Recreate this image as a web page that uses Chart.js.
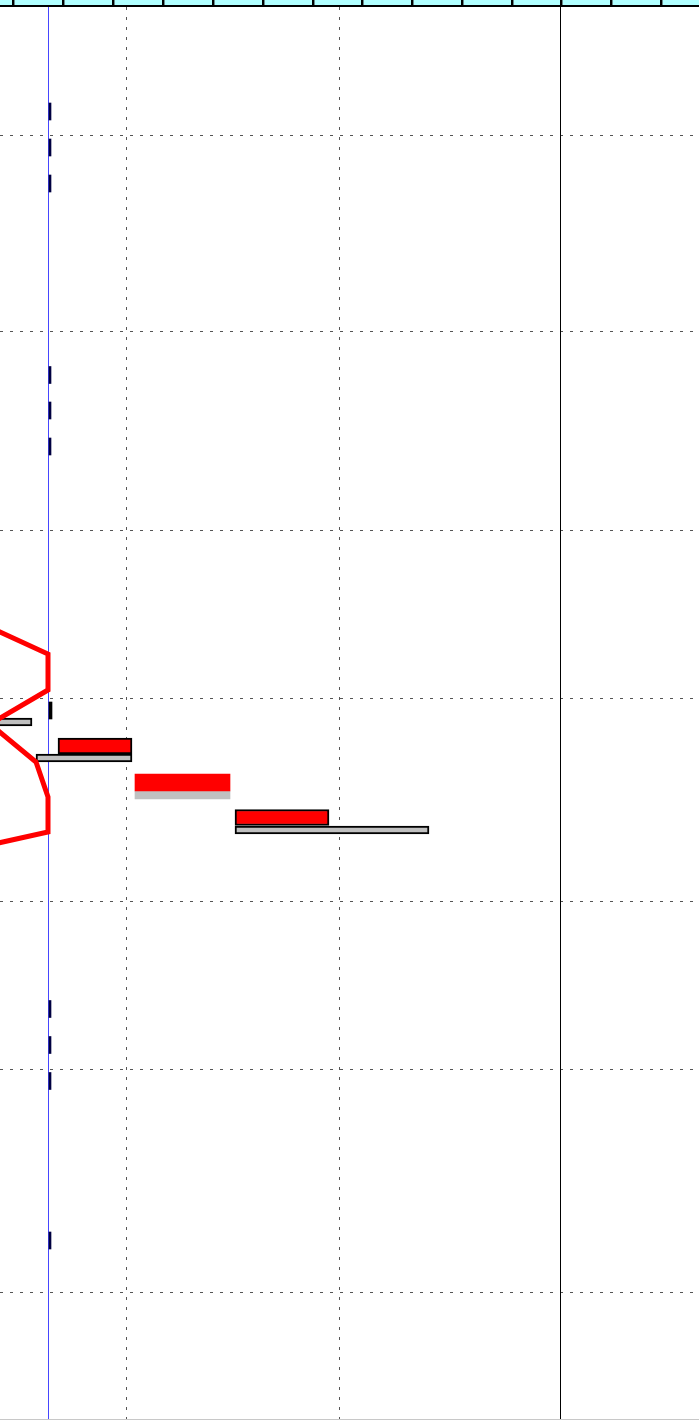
<!DOCTYPE html>
<html>
<head>
<meta charset="utf-8">
<title>Chart</title>
<script src="https://cdn.jsdelivr.net/npm/chart.js@4.4.1/dist/chart.umd.min.js"></script>
<style>
    html, body { margin: 0; padding: 0; background: #ffffff; }
    #chart { display: block; }
</style>
</head>
<body>
<canvas id="chart" width="699" height="1420"></canvas>
<script>
// Valeurs (unites de l'axe = pixels de la zone du graphique)
const headerCells = [12, 62, 112, 162, 212, 262, 312, 361, 411, 461, 511, 560, 610, 660];
const rowLines = [135, 331, 530, 698, 901, 1069, 1292];
const dashedColumns = [126, 339];
const blueColumn = 48;
const blackColumn = 560;

// barres grises avec bordure : [debut, fin] et position verticale
const greyRanges = [[-20, 32], [36, 132], [235, 429]];
const greyRows = [722, 758, 830];
// barres rouges avec bordure
const redRanges = [[58, 132], [235, 329]];
const redRows = [746, 817.5];
// paire sans bordure
const plainRedRanges = [[135, 230]];
const plainRedRows = [782.5];
const plainGreyRanges = [[135, 230]];
const plainGreyRows = [795];
// petits traits le long de la ligne bleue
const markRange = [49, 51];
const markRows = [111.5, 147.5, 183.5, 375, 410.5, 446.5, 1009, 1045, 1081, 1240.5];
const blackMarkRange = [49, 52];
const blackMarkRows = [710.5];
// contour rouge
const outlineX = [-20, 48, 48, -10, 36, 48, 48, -20];
const outlineY = [623, 654, 690, 724, 762, 797, 832, 847];

function toBars(ranges, rows) {
    return ranges.map((r, i) => ({ x: r, y: rows[i] }));
}

function toPoints(xs, ys) {
    return xs.map((x, i) => ({ x: x, y: ys[i] }));
}

// Plugin pour le quadrillage, les lignes verticales et le bandeau du haut
const backgroundPlugin = {
    id: 'backgroundPlugin',
    beforeDatasetsDraw(chart) {
        const ctx = chart.ctx;
        const xs = chart.scales.x;
        const ys = chart.scales.y;
        const area = chart.chartArea;
        ctx.save();

        ctx.strokeStyle = '#555555';
        ctx.lineWidth = 1;
        ctx.setLineDash([3, 7]);
        rowLines.forEach(v => {
            const py = Math.round(ys.getPixelForValue(v)) + 0.5;
            ctx.beginPath();
            ctx.moveTo(area.left, py);
            ctx.lineTo(area.right, py);
            ctx.stroke();
        });
        dashedColumns.forEach(v => {
            const px = Math.round(xs.getPixelForValue(v)) + 0.5;
            ctx.beginPath();
            ctx.moveTo(px, area.top + 7);
            ctx.lineTo(px, area.bottom);
            ctx.stroke();
        });
        ctx.setLineDash([]);

        let px = Math.round(xs.getPixelForValue(blueColumn)) + 0.5;
        ctx.strokeStyle = '#4646ff';
        ctx.beginPath();
        ctx.moveTo(px, area.top);
        ctx.lineTo(px, area.bottom);
        ctx.stroke();

        px = Math.round(xs.getPixelForValue(blackColumn)) + 0.5;
        ctx.strokeStyle = '#000000';
        ctx.beginPath();
        ctx.moveTo(px, area.top);
        ctx.lineTo(px, area.bottom);
        ctx.stroke();

        // ligne grise en bas
        ctx.fillStyle = '#c8c8c8';
        ctx.fillRect(area.left, area.bottom - 1, area.right - area.left, 1);
        ctx.restore();
    },
    afterDatasetsDraw(chart) {
        const ctx = chart.ctx;
        const xs = chart.scales.x;
        const area = chart.chartArea;
        ctx.save();
        ctx.fillStyle = '#b0ffff';
        ctx.fillRect(area.left, area.top, area.right - area.left, 5);
        ctx.fillStyle = '#000000';
        ctx.fillRect(area.left, area.top + 5, area.right - area.left, 2);
        headerCells.forEach(v => {
            const px = Math.round(xs.getPixelForValue(v));
            ctx.fillStyle = '#000000';
            ctx.fillRect(px, area.top, 2, 7);
            ctx.fillStyle = '#6a8a8a';
            ctx.fillRect(px + 2, area.top, 1, 5);
        });
        ctx.restore();
    }
};

function barSet(data, thickness, fill, border, width) {
    return {
        type: 'bar',
        indexAxis: 'y',
        stack: 'same',
        data: data,
        barThickness: thickness,
        backgroundColor: fill,
        borderColor: border,
        borderWidth: width,
        borderSkipped: false,
        order: 2
    };
}

const chartInstance = new Chart(document.getElementById('chart'), {
    type: 'scatter',
    data: {
        datasets: [
            {
                type: 'line',
                data: toPoints(outlineX, outlineY),
                borderColor: '#ff0000',
                borderWidth: 5,
                borderJoinStyle: 'miter',
                pointRadius: 0,
                fill: false,
                tension: 0,
                order: 1
            },
            barSet(toBars(redRanges, redRows), 16, '#ff0000', '#000000', 2),
            barSet(toBars(greyRanges, greyRows), 8, '#c0c0c0', '#000000', 2),
            barSet(toBars(plainRedRanges, plainRedRows), 17, '#ff0000', '#ff0000', 0),
            barSet(toBars(plainGreyRanges, plainGreyRows), 8, '#c0c0c0', '#c0c0c0', 0),
            barSet(markRows.map(r => ({ x: markRange, y: r })), 17, '#000040', '#000040', 0),
            barSet(blackMarkRows.map(r => ({ x: blackMarkRange, y: r })), 17, '#000000', '#000000', 0)
        ]
    },
    options: {
        responsive: false,
        animation: false,
        layout: { padding: 0 },
        plugins: {
            legend: { display: false },
            tooltip: { enabled: false }
        },
        scales: {
            x: {
                type: 'linear',
                display: false,
                min: 0,
                max: 699,
                stacked: false,
                offset: false
            },
            y: {
                type: 'linear',
                display: false,
                min: 0,
                max: 1420,
                reverse: true,
                offset: false,
                grid: { offset: false }
            }
        }
    },
    plugins: [backgroundPlugin]
});
</script>
</body>
</html>
